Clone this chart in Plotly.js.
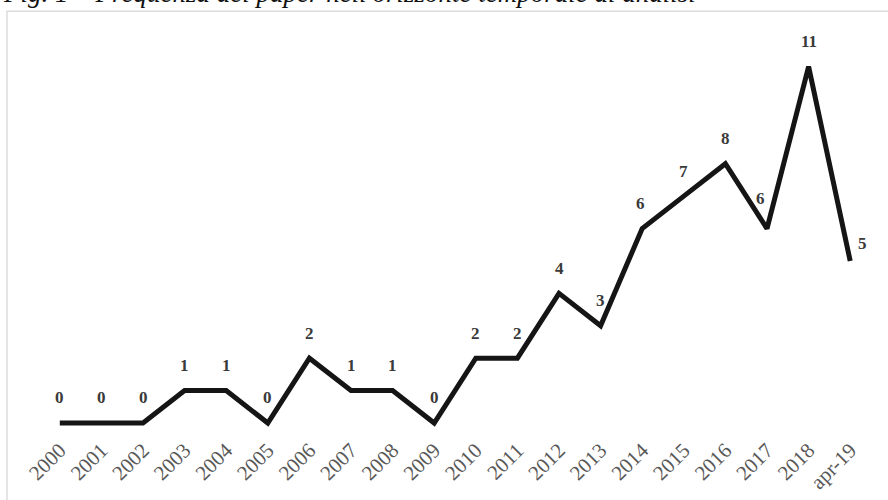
<!DOCTYPE html>
<html>
<head>
<meta charset="utf-8">
<script src="https://cdn.plot.ly/plotly-3.0.1.min.js"></script>
<style>html,body{margin:0;padding:0;background:#fff;}#chart{width:888px;height:500px;}</style>
</head>
<body>
<div id="chart"></div>
<script>
const categories = ["2000","2001","2002","2003","2004","2005","2006","2007","2008","2009","2010","2011","2012","2013","2014","2015","2016","2017","2018","apr-19"];
const papers = [0,0,0,1,1,0,2,1,1,0,2,2,4,3,6,7,8,6,11,5];
const titleText = "Fig. 1 – Frequenza dei paper nell'orizzonte temporale di analisi";

// label offsets (px) for individual data labels
const labelXShift = categories.map(function(c){ return c === "2017" ? -7 : (c === "apr-19" ? 12 : (c === "2014" ? -2 : 0)); });
const labelYShift = categories.map(function(c){ return c === "2017" ? 30 : (c === "apr-19" ? 17 : 25); });

const trace = {
  x: categories,
  y: papers,
  type: 'scatter',
  mode: 'lines',
  line: {color: '#151515', width: 5},
  hoverinfo: 'skip'
};

const annotations = categories.map(function(c, i){
  return {
    x: i, y: papers[i], xref: 'x', yref: 'y',
    text: '<b>' + papers[i] + '</b>',
    showarrow: false,
    xanchor: 'center', yanchor: 'middle',
    xshift: labelXShift[i], yshift: labelYShift[i],
    font: {family: 'Liberation Serif, Times New Roman, serif', size: 17, color: '#3a3a3a'}
  };
});
annotations.push({
  xref: 'paper', yref: 'paper', x: -0.046, y: 1.1127,
  xanchor: 'left', yanchor: 'middle', showarrow: false,
  text: '<i>' + titleText + '</i>',
  font: {family: 'Liberation Serif, Times New Roman, serif', size: 27, color: '#111'}
});

const layout = {
  width: 888, height: 500,
  margin: {l: 39, r: 17, t: 38, b: 67},
  paper_bgcolor: '#ffffff',
  plot_bgcolor: '#ffffff',
  showlegend: false,
  xaxis: {
    type: 'category',
    range: [-0.5, 19.5],
    showgrid: false, zeroline: false, showline: false,
    ticks: '',
    tickangle: -45,
    tickfont: {family: 'Liberation Serif, Times New Roman, serif', size: 21, color: '#595959'}
  },
  yaxis: {
    range: [-0.309, 11.88],
    showgrid: false, zeroline: false, showline: false,
    showticklabels: false, ticks: ''
  },
  shapes: [{
    type: 'rect', xref: 'paper', yref: 'paper',
    x0: -0.0385, x1: 1.03, y0: -0.2, y1: 1.068,
    line: {color: '#dcdcdc', width: 1.5},
    fillcolor: 'rgba(0,0,0,0)', layer: 'below'
  }],
  annotations: annotations
};

Plotly.newPlot('chart', [trace], layout, {staticPlot: true, displayModeBar: false});
</script>
</body>
</html>
